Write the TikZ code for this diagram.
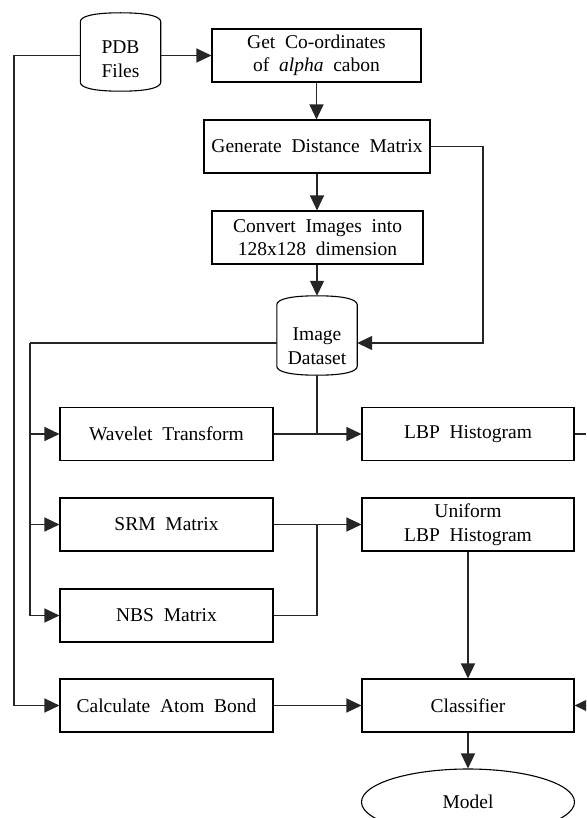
\documentclass[tikz,border=0pt]{standalone}
\usepackage{fontspec}
\setmainfont{Liberation Serif}
\usetikzlibrary{arrows.meta,shapes.geometric,calc}

% label font: Times-like, with wide word spacing
\newcommand\lbl{\fontsize{19.5}{23.5}\selectfont\spaceskip=0.5em plus 0.1em\relax}

% drum (database) outline drawn around a named node
\newcommand\drumoutline[1]{%
  \draw[line width=1.1pt]
    ($(#1.north west)+(0,9)$) .. controls ($(#1.north west)+(0,3)$) and ($(#1.north)+(-25,0)$) .. (#1.north)
    .. controls ($(#1.north)+(25,0)$) and ($(#1.north east)+(0,3)$) .. ($(#1.north east)+(0,9)$)
    -- ($(#1.south east)+(0,-9)$)
    .. controls ($(#1.south east)+(0,-3)$) and ($(#1.south)+(25,0)$) .. (#1.south)
    .. controls ($(#1.south)+(-25,0)$) and ($(#1.south west)+(0,-3)$) .. ($(#1.south west)+(0,-9)$)
    -- cycle;}

\begin{document}
\begin{tikzpicture}[x=1pt,y=-1pt,
  box/.style={draw, line width=1.1pt, inner sep=0pt, align=center, font=\lbl,
              minimum height=53pt},
  lbox/.style={box, minimum width=213pt},
  rbox/.style={box, minimum width=212pt},
  drum/.style={inner sep=0pt, minimum width=80pt, minimum height=78pt},
  txt/.style={inner sep=0pt, align=center, font=\lbl},
  wire/.style={line width=1.2pt, draw=black!85},
  arrow/.style={wire, -{Triangle[length=15pt,width=14pt]}}]

\useasboundingbox (0,0) rectangle (586,818);
\clip (0,0) rectangle (586,818);

% ---- top chain
\node[drum] (pdb) at (120.5,52) {};
\drumoutline{pdb}
\node[txt] (pdbtxt) at (120.5,59) {PDB\\Files};

\node[box, minimum width=209pt] (get) at (316.5,55.5) {Get Co-ordinates\\of \textit{alpha} cabon};
\node[box, minimum width=226pt] (gdm) at (317,146.5) {Generate Distance Matrix};
\node[box, minimum width=211pt] (cnv) at (317.5,237.5) {Convert Images into\\128x128 dimension};

\node[drum, minimum height=79pt] (ids) at (317,335.5) {};
\drumoutline{ids}
\node[txt] (idstxt) at (317,346) {Image\\Dataset};

% ---- feature boxes
\node[lbox] (wav) at (166.5,434) {Wavelet Transform};
\node[rbox] (lbp) at (468,434) {LBP Histogram};
\node[lbox] (srm) at (166.5,524.5) {SRM Matrix};
\node[rbox] (uni) at (468,524.5) {Uniform\\LBP Histogram};
\node[lbox] (nbs) at (166.5,615.5) {NBS Matrix};
\node[lbox] (atom) at (166.5,705.5) {Calculate Atom Bond};
\node[rbox] (cls) at (468,705.5) {Classifier};
\node[ellipse, draw, line width=1.1pt, inner sep=0pt, minimum width=213pt,
      minimum height=66pt, font=\lbl] (model) at (468,802) {Model};

% ---- routing points
\coordinate (railL) at (14,55.5);
\coordinate (railR) at (483,146.5);
\coordinate (railM) at (30,343);
\coordinate (joint) at (317,524.5);
\coordinate (edgeA) at (586,434);
\coordinate (edgeB) at (586,705.5);

% ---- connectors
\draw[arrow] (pdb.east |- get.west) -- (get.west);
\draw[arrow] (pdb.west |- get.west) -- (railL) |- (atom.west);
\draw[arrow] (get.south) -- (get.south |- gdm.north);
\draw[arrow] (gdm.south) -- (gdm.south |- cnv.north);
\draw[arrow] (gdm.east) -- (railR) |- ($(ids.east)+(0,7.5)$);
\draw[arrow] (cnv.south -| ids.north) -- (ids.north);

\draw[wire] ($(ids.west)+(0,7.5)$) -- (railM);
\draw[arrow] (railM) |- (nbs.west);
\draw[arrow] (railM |- wav.west) -- (wav.west);
\draw[arrow] (railM |- srm.west) -- (srm.west);

\draw[wire] (ids.south) -- (ids.south |- wav.east);
\draw[arrow] (wav.east) -- (lbp.west);
\draw[wire] (lbp.east) -- (edgeA);

\draw[arrow] (srm.east) -- (uni.west);
\draw[wire] (nbs.east) -| (joint);

\draw[arrow] (uni.south) -- (cls.north);
\draw[arrow] (atom.east) -- (cls.west);
\draw[arrow] (edgeB) -- (cls.east);
\draw[arrow] (cls.south) -- (model.north);
\end{tikzpicture}
\end{document}
